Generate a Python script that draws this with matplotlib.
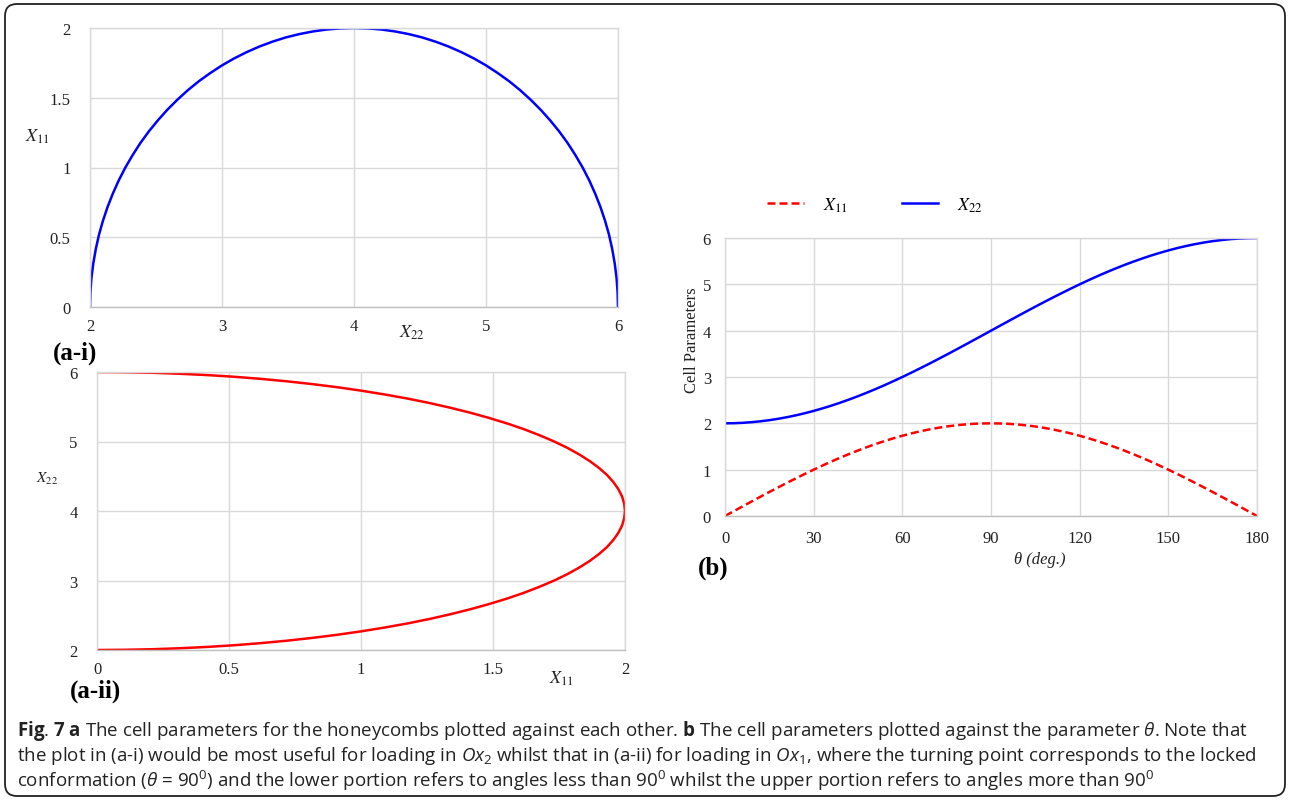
import matplotlib
matplotlib.use("Agg")
import matplotlib.pyplot as plt
from matplotlib.patches import FancyBboxPatch
from matplotlib.transforms import IdentityTransform

# --- data (theta every 3 deg) ---
theta = [0, 3, 6, 9, 12, 15, 18, 21, 24, 27, 30, 33, 36, 39, 42, 45, 48, 51, 54, 57,
         60, 63, 66, 69, 72, 75, 78, 81, 84, 87, 90, 93, 96, 99, 102, 105, 108, 111,
         114, 117, 120, 123, 126, 129, 132, 135, 138, 141, 144, 147, 150, 153, 156,
         159, 162, 165, 168, 171, 174, 177, 180]
x11 = [0.000, 0.105, 0.209, 0.313, 0.416, 0.518, 0.618, 0.717, 0.813, 0.908, 1.000,
       1.089, 1.176, 1.259, 1.338, 1.414, 1.486, 1.554, 1.618, 1.677, 1.732, 1.782,
       1.827, 1.867, 1.902, 1.932, 1.956, 1.975, 1.989, 1.997, 2.000, 1.997, 1.989,
       1.975, 1.956, 1.932, 1.902, 1.867, 1.827, 1.782, 1.732, 1.677, 1.618, 1.554,
       1.486, 1.414, 1.338, 1.259, 1.176, 1.089, 1.000, 0.908, 0.813, 0.717, 0.618,
       0.518, 0.416, 0.313, 0.209, 0.105, 0.000]
x22 = [2.000, 2.003, 2.011, 2.025, 2.044, 2.068, 2.098, 2.133, 2.173, 2.218, 2.268,
       2.323, 2.382, 2.446, 2.514, 2.586, 2.662, 2.741, 2.824, 2.911, 3.000, 3.092,
       3.187, 3.283, 3.382, 3.482, 3.584, 3.687, 3.791, 3.895, 4.000, 4.105, 4.209,
       4.313, 4.416, 4.518, 4.618, 4.717, 4.813, 4.908, 5.000, 5.089, 5.176, 5.259,
       5.338, 5.414, 5.486, 5.554, 5.618, 5.677, 5.732, 5.782, 5.827, 5.867, 5.902,
       5.932, 5.956, 5.975, 5.989, 5.997, 6.000]

ticks_a1_x = [2, 3, 4, 5, 6]
ticks_a1_y = [0, 0.5, 1, 1.5, 2]
ticks_a2_x = [0, 0.5, 1, 1.5, 2]
ticks_a2_y = [2, 3, 4, 5, 6]
ticks_b_x = [0, 30, 60, 90, 120, 150, 180]
ticks_b_y = [0, 1, 2, 3, 4, 5, 6]

W, H = 1290, 803
BLUE = "#0000ff"
RED = "#ff0000"
GRID = "#d9d9d9"

plt.rcParams["font.family"] = ["Liberation Serif", "DejaVu Serif"]
plt.rcParams["mathtext.fontset"] = "stix"
plt.rcParams["mathtext.rm"] = "Open Sans"
plt.rcParams["mathtext.it"] = "Open Sans:italic"
plt.rcParams["mathtext.bf"] = "Open Sans:bold"

fig = plt.figure(figsize=(W / 100, H / 100), dpi=100)


def px_axes(left, top, right, bottom):
    return fig.add_axes([left / W, 1 - bottom / H, (right - left) / W, (bottom - top) / H])


def style(ax, xt, yt, xpad, ypad):
    ax.set_xticks(xt)
    ax.set_yticks(yt)
    ax.set_xlim(xt[0], xt[-1])
    ax.set_ylim(yt[0], yt[-1])
    ax.grid(True, color=GRID, lw=1)
    ax.set_axisbelow(True)
    for s in ax.spines.values():
        s.set_color(GRID)
        s.set_linewidth(1)
    ax.spines["bottom"].set_color("#bfbfbf")
    ax.tick_params(length=0, labelsize=12, colors="#222222")
    ax.tick_params(axis="x", pad=xpad)
    ax.tick_params(axis="y", pad=ypad)


def xlab(x, y, sub, size=13):
    fig.text(x / W, 1 - y / H, r"$X_{\mathrm{%s}}$" % sub, ha="center", va="center",
             fontsize=size, color="#222222")


# (a-i)
a1 = px_axes(90, 29, 618, 308)
a1.plot(x22, x11, color=BLUE, lw=1.8, solid_joinstyle="round")
style(a1, ticks_a1_x, ticks_a1_y, 8, 14)
a1.set_xticklabels(["2", "3", "4", "5", "6"])
a1.set_yticklabels(["0", "0.5", "1", "1.5", "2"])
xlab(412, 333, "22")
xlab(37, 137, "11")
fig.text(53 / W, 1 - 353 / H, "(a-i)", fontsize=18, fontweight="bold", va="center")

# (a-ii)
a2 = px_axes(97, 373, 625, 651)
a2.plot(x11, x22, color=RED, lw=1.8, solid_joinstyle="round")
style(a2, ticks_a2_x, ticks_a2_y, 8, 14)
a2.set_xticklabels(["0", "0.5", "1", "1.5", "2"])
a2.set_yticklabels(["2", "3", "4", "5", "6"])
xlab(561, 679, "11")
xlab(47, 479, "22", size=11)
fig.text(70 / W, 1 - 691 / H, "(a-ii)", fontsize=18, fontweight="bold", va="center")

# (b)
b = px_axes(725, 239, 1257, 517)
b.plot(theta, x11, color=RED, lw=1.8, dashes=(3.2, 1.6), label=r"$X_{\mathrm{11}}$")
b.plot(theta, x22, color=BLUE, lw=1.8, solid_joinstyle="round", label=r"$X_{\mathrm{22}}$")
style(b, ticks_b_x, ticks_b_y, 10, 10)
fig.text(692 / W, 1 - 340 / H, "Cell Parameters", rotation=90, ha="center", va="center",
         fontsize=12, color="#222222")
fig.text(1040 / W, 1 - 560 / H, "\u03b8 (deg.)", fontstyle="italic", ha="center",
         va="center", fontsize=12, color="#222222")
fig.text(698 / W, 1 - 568 / H, "(b)", fontsize=18, fontweight="bold", va="center")
b.legend(loc="center", bbox_to_anchor=(875 / W, 1 - 206 / H), bbox_transform=fig.transFigure,
         ncol=2, frameon=False, fontsize=13, handlelength=2.0, columnspacing=3.0,
         handletextpad=1.05)

# caption
cap = [
    r"$\mathbf{Fig}$. $\mathbf{7}$ $\mathbf{a}$ The cell parameters for the honeycombs plotted against each other. "
    r"$\mathbf{b}$ The cell parameters plotted against the parameter $\mathit{\theta}$. Note that",
    r"the plot in (a-i) would be most useful for loading in $\mathit{Ox}_{\mathrm{2}}$ whilst that "
    r"in (a-ii) for loading in $\mathit{Ox}_{\mathrm{1}}$, where the turning point corresponds to the locked",
    r"conformation ($\mathit{\theta}$ = 90$^{\mathrm{0}}$) and the lower portion refers to angles "
    r"less than 90$^{\mathrm{0}}$ whilst the upper portion refers to angles more than 90$^{\mathrm{0}}$",
]
for i, line in enumerate(cap):
    t = fig.text(17 / W, 1 - (731 + 25 * i) / H, line, fontsize=13.5, va="center",
                 family=["Open Sans", "DejaVu Sans"], color="#222222")
    t.set_math_fontfamily("custom")

# rounded frame
frame = FancyBboxPatch((5, 6), 1280, 792, boxstyle="round,pad=0,rounding_size=12",
                       transform=IdentityTransform(), fill=False, ec="#222222", lw=1.3)
fig.patches.append(frame)

fig.savefig("out.png", dpi=100)
